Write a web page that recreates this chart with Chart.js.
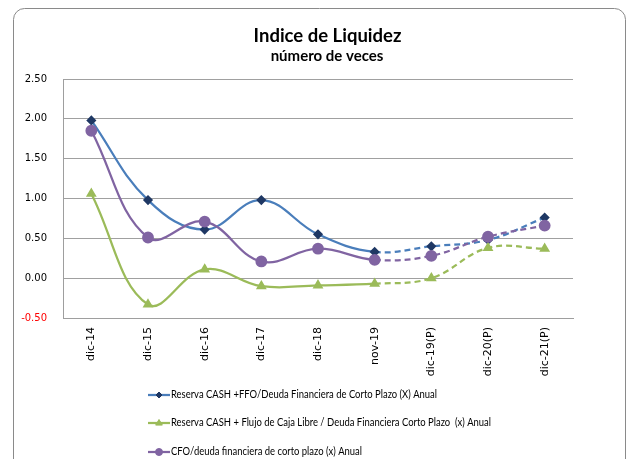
<!DOCTYPE html>
<html>
<head>
<meta charset="utf-8">
<script src="https://cdn.jsdelivr.net/npm/chart.js@4/dist/chart.umd.min.js"></script>
<style>
  html, body { margin: 0; padding: 0; background: #fff; }
  #wrap { width: 633px; height: 459px; }
</style>
</head>
<body>
<div id="wrap"><canvas id="c" width="633" height="459"></canvas></div>
<script>
const categories = ['dic-14', 'dic-15', 'dic-16', 'dic-17', 'dic-18', 'nov-19', 'dic-19(P)', 'dic-20(P)', 'dic-21(P)'];
const reservaCashFfo = [1.98, 0.98, 0.61, 0.98, 0.55, 0.33, 0.40, 0.48, 0.76];
const reservaCashFcl = [1.06, -0.33, 0.11, -0.10, -0.09, -0.07, 0.00, 0.38, 0.37];
const cfoDeuda = [1.85, 0.51, 0.71, 0.21, 0.37, 0.23, 0.28, 0.52, 0.66];
const seriesNames = [
  'Reserva CASH +FFO/Deuda Financiera de Corto Plazo (X) Anual',
  'Reserva CASH + Flujo de Caja Libre / Deuda Financiera Corto Plazo  (x) Anual',
  'CFO/deuda financiera de corto plazo (x) Anual'
];
const titleText = 'Indice de Liquidez';
const subtitleText = 'número de veces';
const projectedFrom = 5; // dashed from nov-19 onwards

const dashSeg = { borderDash: ctx => ctx.p0DataIndex >= projectedFrom ? [6, 4] : undefined };

const styles = [
  { line: '#4A7EBB', fill: '#1F3864', stroke: '#1F3864', shape: 'rectRot', r: 3.5, lr: 3 },
  { line: '#9BBB59', fill: '#9BBB59', stroke: '#9BBB59', shape: 'triangle', r: 4, lr: 3.5 },
  { line: '#8064A2', fill: '#8064A2', stroke: '#8064A2', shape: 'circle', r: 4.8, lr: 3.5 }
];

function drawMarker(ctx, st, x, y) {
  ctx.save();
  ctx.fillStyle = st.fill; ctx.strokeStyle = st.stroke; ctx.lineWidth = 1;
  ctx.beginPath();
  const r = st.lr;
  if (st.shape === 'circle') {
    ctx.arc(x, y, r, 0, Math.PI * 2);
  } else if (st.shape === 'triangle') {
    ctx.moveTo(x, y - r); ctx.lineTo(x + r * 0.95, y + r * 0.6); ctx.lineTo(x - r * 0.95, y + r * 0.6); ctx.closePath();
  } else {
    ctx.moveTo(x, y - r); ctx.lineTo(x + r, y); ctx.lineTo(x, y + r); ctx.lineTo(x - r, y); ctx.closePath();
  }
  ctx.fill(); ctx.stroke();
  ctx.restore();
}

const decor = {
  id: 'decor',
  beforeDraw(chart) {
    const ctx = chart.ctx;
    ctx.save();
    ctx.fillStyle = '#fff';
    ctx.fillRect(0, 0, chart.width, chart.height);
    ctx.strokeStyle = '#8a8a8a';
    ctx.lineWidth = 1;
    ctx.beginPath();
    ctx.roundRect(13.5, 8.5, 612, 480, 11);
    ctx.stroke();
    ctx.restore();
  },
  afterDraw(chart) {
    const ctx = chart.ctx;
    ctx.save();
    ctx.fillStyle = '#000';
    ctx.textAlign = 'center';
    ctx.textBaseline = 'alphabetic';
    ctx.font = 'bold 18.5px Lato, "Open Sans", sans-serif';
    ctx.fillText(titleText, 327.5, 41.5, 152);
    ctx.font = 'bold 15px Lato, "Open Sans", sans-serif';
    ctx.fillText(subtitleText, 327, 61, 117);
    // legend
    const area = chart.chartArea;
    const rows = [area.bottom + 77, area.bottom + 105, area.bottom + 134];
    ctx.textAlign = 'left';
    ctx.textBaseline = 'middle';
    ctx.font = '10.5px Lato, "Open Sans", sans-serif';
    for (let i = 0; i < 3; i++) {
      const y = rows[i];
      const st = styles[i];
      ctx.strokeStyle = st.line; ctx.lineWidth = 2.25;
      ctx.beginPath(); ctx.moveTo(148, y); ctx.lineTo(170, y); ctx.stroke();
      drawMarker(ctx, st, 159, y);
      ctx.fillStyle = '#000';
      const w = ctx.measureText(seriesNames[i]).width;
      ctx.fillText(seriesNames[i], 171, y, w * 0.9);
    }
    ctx.restore();
  }
};

const seriesData = [reservaCashFfo, reservaCashFcl, cfoDeuda];
const orders = [2, 1, 0];
const datasets = seriesData.map((d, i) => ({
  label: seriesNames[i],
  data: d,
  borderColor: styles[i].line,
  backgroundColor: styles[i].fill,
  pointBackgroundColor: styles[i].fill,
  pointBorderColor: styles[i].stroke,
  pointStyle: styles[i].shape,
  pointRadius: styles[i].r,
  pointHoverRadius: styles[i].r,
  borderWidth: 2.25,
  tension: 0.4,
  fill: false,
  order: orders[i],
  segment: dashSeg
}));

new Chart(document.getElementById('c'), {
  type: 'line',
  data: { labels: categories, datasets },
  plugins: [decor],
  options: {
    responsive: false,
    animation: false,
    devicePixelRatio: 1,
    layout: { padding: { left: 0, right: 60, top: 79, bottom: 71 } },
    plugins: { legend: { display: false }, title: { display: false }, tooltip: { enabled: false } },
    scales: {
      x: {
        offset: true,
        grid: { display: false, drawTicks: false },
        border: { display: true, color: '#9E9E9E', width: 1 },
        ticks: {
          maxRotation: 90, minRotation: 90, padding: 9, autoSkip: false,
          color: '#000',
          font: { family: '"DejaVu Sans", sans-serif', size: 11 }
        },
        afterFit(s) { s.height = 70; }
      },
      y: {
        min: -0.5, max: 2.5,
        grid: { color: '#A0A0A0', lineWidth: 1, drawTicks: false },
        border: { display: true, color: '#9E9E9E', width: 1 },
        ticks: {
          stepSize: 0.5, padding: 16,
          font: { family: '"DejaVu Sans", sans-serif', size: 10 },
          color: ctx => (ctx.tick && ctx.tick.value < 0) ? '#FF0000' : '#000',
          callback: v => Number(v).toFixed(2)
        },
        afterFit(s) { s.width = 63; }
      }
    }
  }
});
</script>
</body>
</html>
